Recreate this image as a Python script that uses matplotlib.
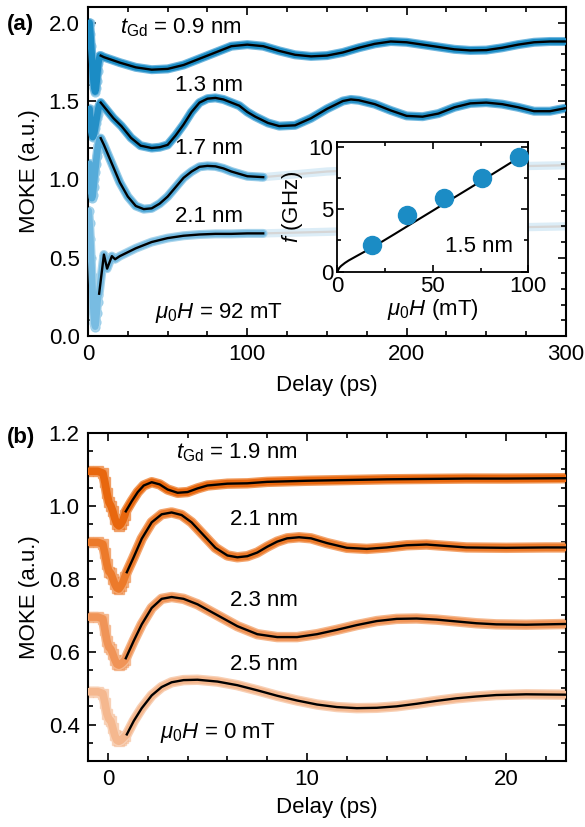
import numpy as np
import matplotlib
matplotlib.use("Agg")
import matplotlib.pyplot as plt
from matplotlib.ticker import MultipleLocator

plt.rcParams['font.family'] = ['Liberation Sans', 'DejaVu Sans']
plt.rcParams['mathtext.fontset'] = 'custom'
plt.rcParams['mathtext.rm'] = 'Liberation Sans'
plt.rcParams['mathtext.it'] = 'Liberation Sans:italic'
plt.rcParams['font.size'] = 16

# ---------------- Panel (a) data ----------------
t09_early = [1.0, 1.5, 2.0, 2.5, 3.0, 3.5, 4.0, 4.5, 5.0, 5.5, 6.0, 6.5, 7.0, 7.5]
y09_early = [2.0, 1.93, 1.85, 1.77, 1.69, 1.62, 1.58, 1.56, 1.58, 1.63, 1.69, 1.74, 1.77, 1.79]
t09_fit = [8, 10, 20, 30, 40, 50, 60, 70, 80, 90, 100, 110, 120, 130, 140, 150, 160, 170, 180,
           190, 200, 210, 220, 230, 240, 250, 260, 270, 280, 290, 300]
y09_fit = [1.79, 1.78, 1.745, 1.715, 1.70, 1.705, 1.73, 1.77, 1.81, 1.85, 1.86, 1.85, 1.82, 1.795,
           1.785, 1.79, 1.81, 1.84, 1.865, 1.88, 1.875, 1.86, 1.845, 1.83, 1.823, 1.825, 1.84,
           1.86, 1.875, 1.88, 1.88]

t13_early = [1.0, 1.5, 2.0, 2.5, 3.0, 3.5, 4.0, 4.5, 5.0, 5.5, 6.0, 6.5, 7.0, 7.5]
y13_early = [1.45, 1.38, 1.31, 1.28, 1.27, 1.28, 1.30, 1.33, 1.36, 1.39, 1.42, 1.45, 1.47, 1.48]
t13_fit = [8, 12, 16, 21, 27, 33, 40, 45, 50, 55, 60, 65, 70, 75, 80, 85, 90, 95, 100, 105, 113,
           120, 130, 140, 150, 160, 165, 170, 180, 190, 200, 210, 220, 230, 240, 250, 260, 270,
           280, 290, 300]
y13_fit = [1.49, 1.44, 1.39, 1.34, 1.265, 1.215, 1.20, 1.205, 1.22, 1.28, 1.35, 1.43, 1.49, 1.515,
           1.52, 1.51, 1.49, 1.47, 1.43, 1.40, 1.36, 1.34, 1.345, 1.39, 1.45, 1.50, 1.51, 1.505,
           1.48, 1.44, 1.405, 1.40, 1.42, 1.46, 1.485, 1.49, 1.48, 1.46, 1.435, 1.435, 1.455]

t17_early = [1.0, 1.5, 2.0, 2.5, 3.0, 3.5, 4.0, 4.5, 5.0, 5.5, 6.0, 6.5, 7.0, 7.5]
y17_early = [1.10, 1.00, 0.92, 0.88, 0.90, 0.95, 1.00, 1.05, 1.10, 1.15, 1.19, 1.22, 1.245, 1.26]
t17_fit = [8, 10, 15, 20, 25, 30, 35, 40, 45, 50, 55, 60, 65, 70, 75, 80, 85, 90, 95, 100, 110]
y17_fit = [1.263, 1.22, 1.10, 0.98, 0.89, 0.83, 0.81, 0.815, 0.845, 0.89, 0.95, 1.01, 1.05, 1.08,
           1.086, 1.083, 1.07, 1.05, 1.035, 1.02, 1.014]
t17_fade = [110, 150, 200, 250, 300]
y17_fade = [1.014, 1.05, 1.07, 1.08, 1.09]

t21_early = [0.5, 1.0, 1.5, 2.0, 2.5, 3.0, 3.5, 4.0, 4.5, 5.0, 5.5, 6.0, 6.5]
y21_early = [0.80, 0.72, 0.62, 0.50, 0.38, 0.26, 0.15, 0.08, 0.06, 0.09, 0.15, 0.22, 0.26]
t21_fit = [7, 10, 12, 15, 17, 20, 30, 40, 50, 60, 70, 80, 90, 100, 110]
y21_fit = [0.27, 0.52, 0.43, 0.51, 0.49, 0.51, 0.56, 0.60, 0.625, 0.64, 0.648, 0.652, 0.652,
           0.655, 0.655]
t21_fade = [110, 150, 200, 250, 300]
y21_fade = [0.655, 0.665, 0.68, 0.69, 0.70]

# inset
field_mT = [18, 36.5, 56, 75.5, 95]
freq_GHz = [2.1, 4.5, 5.9, 7.5, 9.2]
fit_field = [0, 1, 2, 4, 6, 10, 15, 20, 30, 40, 50, 60, 70, 80, 90, 100]
fit_freq = [0.0, 0.30, 0.46, 0.70, 0.90, 1.24, 1.66, 2.09, 3.01, 3.95, 4.88, 5.82, 6.75, 7.69,
            8.64, 9.60]

labels_a = ['$t_{\\rm Gd}$ = 0.9 nm', '1.3 nm', '1.7 nm', '2.1 nm']

# ---------------- Panel (b) data ----------------
tb_early = [-1.0, -0.5, -0.25, -0.15, -0.05, 0.05, 0.15, 0.25, 0.35, 0.45, 0.55, 0.65, 0.75, 0.85]
y19_early = [1.095, 1.095, 1.09, 1.065, 1.035, 1.01, 1.0, 0.985, 0.965, 0.95, 0.945, 0.95, 0.96, 0.975]
y21b_early = [0.90, 0.90, 0.895, 0.87, 0.84, 0.82, 0.815, 0.80, 0.785, 0.775, 0.772, 0.78, 0.79, 0.805]
y23_early = [0.695, 0.695, 0.69, 0.66, 0.63, 0.612, 0.607, 0.593, 0.578, 0.566, 0.563, 0.566, 0.571, 0.577]
y25_early = [0.49, 0.49, 0.485, 0.46, 0.43, 0.415, 0.41, 0.39, 0.37, 0.357, 0.354, 0.357, 0.362, 0.368]

t19_fit = [0.9, 1.2, 1.5, 1.8, 2.2, 2.6, 3.0, 3.5, 4.0, 4.5, 5.0, 6.0, 7.0, 8.0, 10, 12, 14, 16,
           18, 20, 23]
y19_fit = [0.985, 1.013, 1.038, 1.056, 1.065, 1.059, 1.045, 1.036, 1.038, 1.048, 1.056, 1.061,
           1.062, 1.066, 1.069, 1.071, 1.073, 1.074, 1.075, 1.075, 1.076]
t21b_fit = [0.95, 1.3, 1.7, 2.2, 2.7, 3.2, 3.7, 4.2, 4.8, 5.4, 6.0, 6.5, 7.0, 7.5, 8.0, 8.5, 9.0,
            9.6, 10.2, 11, 12, 13, 14, 15, 16, 17, 18, 20, 22, 23]
y21b_fit = [0.818, 0.86, 0.91, 0.955, 0.977, 0.982, 0.975, 0.955, 0.92, 0.885, 0.864, 0.859,
            0.862, 0.872, 0.888, 0.902, 0.911, 0.914, 0.911, 0.898, 0.885, 0.882, 0.886, 0.892,
            0.894, 0.890, 0.886, 0.885, 0.886, 0.886]
t23_fit = [0.9, 1.3, 1.7, 2.2, 2.7, 3.2, 3.8, 4.5, 5.5, 6.5, 7.5, 8.5, 9.5, 10.5, 11.5, 12.5,
           13.5, 14.5, 15.5, 16.5, 17.5, 18.5, 19.5, 21, 23]
y23_fit = [0.582, 0.63, 0.675, 0.72, 0.745, 0.75, 0.745, 0.73, 0.70, 0.67, 0.648, 0.640, 0.640,
           0.648, 0.660, 0.673, 0.684, 0.690, 0.691, 0.688, 0.683, 0.678, 0.675, 0.674, 0.676]
t25_fit = [0.95, 1.3, 1.7, 2.2, 2.7, 3.2, 3.8, 4.5, 5.5, 6.5, 7.5, 8.5, 9.5, 10.5, 11.5, 12.5,
           13.5, 14.5, 15.5, 16.5, 17.5, 18.5, 19.5, 21, 23]
y25_fit = [0.373, 0.41, 0.445, 0.48, 0.503, 0.516, 0.522, 0.523, 0.518, 0.508, 0.494, 0.479,
           0.466, 0.455, 0.448, 0.445, 0.446, 0.450, 0.457, 0.465, 0.472, 0.477, 0.481, 0.483,
           0.482]

labels_b = ['$t_{\\rm Gd}$ = 1.9 nm', '2.1 nm', '2.3 nm', '2.5 nm']

# ---------------- Figure ----------------
fig = plt.figure(figsize=(5.85, 8.27), dpi=100)
axa = fig.add_axes([0.1504, 0.5937, 0.817, 0.3978])
axb = fig.add_axes([0.1504, 0.0798, 0.817, 0.3966])
axi = fig.add_axes([0.5766, 0.6715, 0.3265, 0.1572])


def style(ax, lw=1.5):
    for s in ax.spines.values():
        s.set_linewidth(lw)
    ax.tick_params(which='both', direction='in', top=True, right=True, width=1.2)
    ax.tick_params(which='major', length=6, pad=6, labelsize=16)
    ax.tick_params(which='minor', length=3.5)


blues = ['#1b8cc5', '#2590c7', '#55abd9', '#78bce2']
blues_halo = ['#6fb6de', '#74b9df', '#96cbe8', '#aad5ec']
circ_blue = '#8ac6e6'
early_a = [(t09_early, y09_early), (t13_early, y13_early), (t17_early, y17_early), (t21_early, y21_early)]
fit_a = [(t09_fit, y09_fit), (t13_fit, y13_fit), (t17_fit, y17_fit), (t21_fit, y21_fit)]

for i, ((te, ye), (tf, yf)) in enumerate(zip(early_a, fit_a)):
    axa.plot(te, ye, 'o', mfc='none', mec=circ_blue, ms=6, mew=1.3, alpha=0.85, zorder=2)
    tt = list(te) + list(tf)
    yy = list(ye) + list(yf)
    axa.plot(tt, yy, '-', color=blues_halo[i], lw=6.5, solid_capstyle='round', zorder=2.5)
    axa.plot(tt, yy, '-', color=blues[i], lw=4.8, solid_capstyle='round', zorder=3)
    axa.plot(tf, yf, '-', color='black', lw=1.7, zorder=4)

for tfd, yfd in [(t17_fade, y17_fade), (t21_fade, y21_fade)]:
    axa.plot(tfd, yfd, '-', color='#dcedf7', lw=6, zorder=1)
    axa.plot(tfd, yfd, '-', color='#d6d6d6', lw=1.6, zorder=1.5)

axa.text(20, 1.97, labels_a[0], ha='left', va='center', fontsize=16)
axa.text(76, 1.60, labels_a[1], ha='center', va='center', fontsize=16)
axa.text(76, 1.20, labels_a[2], ha='center', va='center', fontsize=16)
axa.text(76, 0.76, labels_a[3], ha='center', va='center', fontsize=16)
axa.text(82, 0.145, '$\\mu_0H$ = 92 mT', ha='center', va='center', fontsize=16)

axa.set_xlim(0, 300)
axa.set_ylim(0, 2.1)
axa.xaxis.set_major_locator(MultipleLocator(100))
axa.xaxis.set_minor_locator(MultipleLocator(25))
axa.yaxis.set_major_locator(MultipleLocator(0.5))
axa.yaxis.set_minor_locator(MultipleLocator(0.1))
axa.yaxis.set_major_formatter(matplotlib.ticker.FormatStrFormatter('%.1f'))
axa.set_xlabel('Delay (ps)', fontsize=16, labelpad=7)
axa.set_ylabel('MOKE (a.u.)', fontsize=16, labelpad=6)
style(axa)
fig.text(0.012, 0.970, '(a)', fontsize=16, fontweight='bold', ha='left', va='center')

# inset
axi.set_facecolor('white')
axi.plot(fit_field, fit_freq, '-', color='black', lw=1.5, zorder=2)
axi.plot(field_mT, freq_GHz, 'o', color='#1b8cc5', ms=13, zorder=3)
axi.set_xlim(0, 100)
axi.set_ylim(0, 10.4)
axi.xaxis.set_major_locator(MultipleLocator(50))
axi.xaxis.set_minor_locator(MultipleLocator(25))
axi.yaxis.set_major_locator(MultipleLocator(5))
axi.yaxis.set_minor_locator(MultipleLocator(2.5))
style(axi, lw=1.3)
axi.tick_params(which='major', pad=3, length=5)
axi.tick_params(which='minor', length=3)
axi.set_xlabel('$\\mu_0H$ (mT)', fontsize=16, labelpad=0)
axi.set_ylabel('$f$ (GHz)', fontsize=16, labelpad=2)
axi.text(92, 2.0, '1.5 nm', ha='right', va='center', fontsize=16)

# panel b
oranges = ['#e8670e', '#ec7a2a', '#f09457', '#f5b88f']
oranges_halo = ['#f09a5c', '#f3a56e', '#f5b78c', '#f8d0b5']
early_b = [y19_early, y21b_early, y23_early, y25_early]
fit_b = [(t19_fit, y19_fit), (t21b_fit, y21b_fit), (t23_fit, y23_fit), (t25_fit, y25_fit)]
for i, (ye, (tf, yf)) in enumerate(zip(early_b, fit_b)):
    axb.plot(tb_early, ye, 's', color=oranges[i], ms=7, alpha=0.5, zorder=2)
    tt = list(tb_early) + list(tf)
    yy = list(ye) + list(yf)
    axb.plot(tt, yy, '-', color=oranges_halo[i], lw=7.5, solid_capstyle='round', zorder=2.5)
    axb.plot(tt, yy, '-', color=oranges[i], lw=5.5, solid_capstyle='round', zorder=3)
    axb.plot(tf, yf, '-', color='black', lw=1.7, zorder=4)

axb.text(3.4, 1.145, labels_b[0], ha='left', va='center', fontsize=16)
axb.text(7.85, 0.964, labels_b[1], ha='center', va='center', fontsize=16)
axb.text(7.85, 0.741, labels_b[2], ha='center', va='center', fontsize=16)
axb.text(7.85, 0.564, labels_b[3], ha='center', va='center', fontsize=16)
axb.text(5.5, 0.377, '$\\mu_0H$ = 0 mT', ha='center', va='center', fontsize=16)

axb.set_xlim(-1, 23)
axb.set_ylim(0.3, 1.2)
axb.xaxis.set_major_locator(MultipleLocator(10))
axb.xaxis.set_minor_locator(MultipleLocator(2))
axb.yaxis.set_major_locator(MultipleLocator(0.2))
axb.yaxis.set_minor_locator(MultipleLocator(0.05))
axb.yaxis.set_major_formatter(matplotlib.ticker.FormatStrFormatter('%.1f'))
axb.set_xlabel('Delay (ps)', fontsize=16, labelpad=5)
axb.set_ylabel('MOKE (a.u.)', fontsize=16, labelpad=6)
style(axb)
fig.text(0.012, 0.471, '(b)', fontsize=16, fontweight='bold', ha='left', va='center')

fig.savefig('out.png', dpi=100)
